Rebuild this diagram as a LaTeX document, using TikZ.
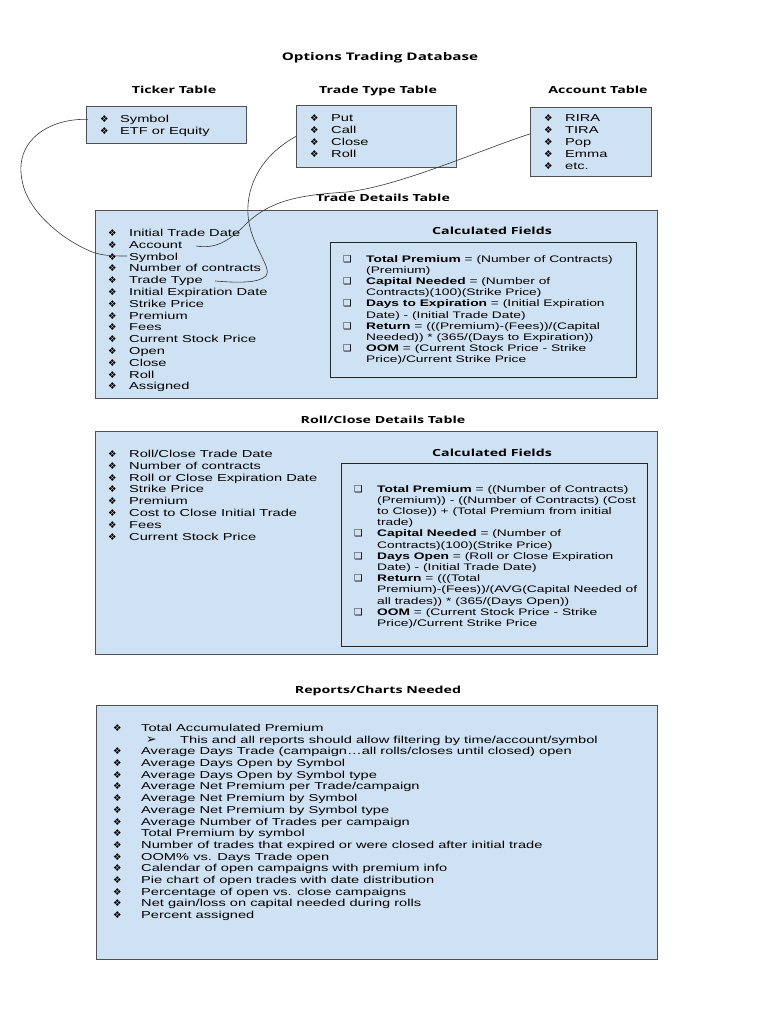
\documentclass[tikz,border=0pt]{standalone}
\usepackage{fontspec}
\setmainfont{Liberation Sans}[FakeStretch=1.45]
\newfontfamily\hdfont{Open Sans}[FakeStretch=1.45]
\newfontfamily\symfont{DejaVu Sans}
\usetikzlibrary{positioning,calc}
\definecolor{tblblue}{RGB}{207,226,243}
\definecolor{edgegray}{RGB}{80,80,80}
\definecolor{wiregray}{RGB}{55,55,55}
\newcommand{\bul}[1][21pt]{\makebox[#1][l]{\symfont\fontsize{9.5}{9.5}\selectfont ❖}}
\newcommand{\chk}[1][23pt]{\makebox[#1][l]{\symfont\fontsize{9.5}{9.5}\selectfont ❑}}
\newcommand{\arr}[1][34pt]{\makebox[#1][l]{\symfont\fontsize{12.5}{10}\selectfont ➢}}
\newcommand{\ind}[1]{\makebox[#1]{}}

\begin{document}
\begin{tikzpicture}[x=1pt, y=-1pt,
    tbl/.style={draw=edgegray, fill=tblblue, line width=0.8pt, anchor=north west, inner sep=0pt},
    calcbox/.style={tbl, draw=black!85, line width=1.1pt},
    hd/.style={anchor=base, font=\hdfont\bfseries\fontsize{9.8}{12}\selectfont},
    titlehd/.style={anchor=base, font=\hdfont\bfseries\fontsize{10.5}{12}\selectfont},
    list/.style={anchor=north west, align=left, inner sep=0pt, font=\fontsize{10.1}{11.8}\selectfont},
    calclist/.style={list, font=\fontsize{9.5}{11.2}\selectfont},
    wire/.style={draw=wiregray, line width=0.6pt}
  ]
  \fill[white] (0,0) rectangle (768,1024);
  \useasboundingbox (0,0) rectangle (768,1024);

  \node[titlehd] (title) at (380,61) {Options Trading Database};

  \node[hd] (tickerhd) at (174,94) {Ticker Table};
  \node[hd] (typehd) at (378,94) {Trade Type Table};
  \node[hd] (accthd) at (598,94) {Account Table};

  \node[tbl, minimum width=160pt, minimum height=37pt] (tk) at (86,106) {};
  \node[tbl, minimum width=160pt, minimum height=62pt] (tt) at (296,105) {};
  \node[tbl, minimum width=121pt, minimum height=69pt] (acct) at (530,107) {};

  \node[list] (tklist) at (100,115) {\bul[20pt]Symbol\\ \bul[20pt]ETF or Equity};
  \node[list, font=\fontsize{10.1}{12}\selectfont] (ttlist) at (310,114)
    {\bul Put\\ \bul Call\\ \bul Close\\ \bul Roll};
  \node[list, font=\fontsize{10.1}{12}\selectfont] (acctlist) at (544,114)
    {\bul RIRA\\ \bul TIRA\\ \bul Pop\\ \bul Emma\\ \bul etc.};

  \node[hd] (tdhd) at (383,202) {Trade Details Table};
  \node[tbl, minimum width=562pt, minimum height=188pt] (td) at (95,210) {};
  \node[list] (tdlist) at (108,229)
    {\bul Initial Trade Date\\ \bul Account\\ \bul Symbol\\ \bul Number of contracts\\
     \bul Trade Type\\ \bul Initial Expiration Date\\ \bul Strike Price\\ \bul Premium\\
     \bul Fees\\ \bul Current Stock Price\\ \bul Open\\ \bul Close\\ \bul Roll\\ \bul Assigned};
  \node[hd] (calchd) at (492,235) {Calculated Fields};
  \node[calcbox, minimum width=306pt, minimum height=135pt] (calc) at (330,242) {};
  \node[calclist] (calclist) at (343,255)
    {\chk\textbf{Total Premium} = (Number of Contracts)\\
     \ind{23pt}(Premium)\\
     \chk\textbf{Capital Needed} = (Number of\\
     \ind{23pt}Contracts)(100)(Strike Price)\\
     \chk\textbf{Days to Expiration} = (Initial Expiration\\
     \ind{23pt}Date) - (Initial Trade Date)\\
     \chk\textbf{Return} = (((Premium)-(Fees))/(Capital\\
     \ind{23pt}Needed)) * (365/(Days to Expiration))\\
     \chk\textbf{OOM} = (Current Stock Price - Strike\\
     \ind{23pt}Price)/Current Strike Price};

  \node[hd] (rchd) at (383,423) {Roll/Close Details Table};
  \node[tbl, minimum width=562pt, minimum height=223pt] (rc) at (95,431) {};
  \node[list] (rclist) at (108,450)
    {\bul Roll/Close Trade Date\\ \bul Number of contracts\\ \bul Roll or Close Expiration Date\\
     \bul Strike Price\\ \bul Premium\\ \bul Cost to Close Initial Trade\\ \bul Fees\\
     \bul Current Stock Price};
  \node[hd] (calchd2) at (492,456) {Calculated Fields};
  \node[calcbox, minimum width=306pt, minimum height=183pt] (calc2) at (341,463) {};
  \node[calclist] (calclist2) at (354,485)
    {\chk\textbf{Total Premium} = ((Number of Contracts)\\
     \ind{23pt}(Premium)) - ((Number of Contracts) (Cost\\
     \ind{23pt}to Close)) + (Total Premium from initial\\
     \ind{23pt}trade)\\
     \chk\textbf{Capital Needed} = (Number of\\
     \ind{23pt}Contracts)(100)(Strike Price)\\
     \chk\textbf{Days Open} = (Roll or Close Expiration\\
     \ind{23pt}Date) - (Initial Trade Date)\\
     \chk\textbf{Return} = (((Total\\
     \ind{23pt}Premium)-(Fees))/(AVG(Capital Needed of\\
     \ind{23pt}all trades)) * (365/(Days Open))\\
     \chk\textbf{OOM} = (Current Stock Price - Strike\\
     \ind{23pt}Price)/Current Strike Price};

  \node[hd] (rephd) at (378,693) {Reports/Charts Needed};
  \node[tbl, minimum width=561pt, minimum height=254pt] (rep) at (96,705) {};
  \node[list, font=\fontsize{10.1}{11.69}\selectfont] (replist) at (113,724)
    {\bul[28pt]Total Accumulated Premium\\
     \ind{33pt}\arr This and all reports should allow filtering by time/account/symbol\\
     \bul[28pt]Average Days Trade (campaign…all rolls/closes until closed) open\\
     \bul[28pt]Average Days Open by Symbol\\
     \bul[28pt]Average Days Open by Symbol type\\
     \bul[28pt]Average Net Premium per Trade/campaign\\
     \bul[28pt]Average Net Premium by Symbol\\
     \bul[28pt]Average Net Premium by Symbol type\\
     \bul[28pt]Average Number of Trades per campaign\\
     \bul[28pt]Total Premium by symbol\\
     \bul[28pt]Number of trades that expired or were closed after initial trade\\
     \bul[28pt]OOM\% vs. Days Trade open\\
     \bul[28pt]Calendar of open campaigns with premium info\\
     \bul[28pt]Pie chart of open trades with date distribution\\
     \bul[28pt]Percentage of open vs. close campaigns\\
     \bul[28pt]Net gain/loss on capital needed during rolls\\
     \bul[28pt]Percent assigned};

  \coordinate (tdSym) at (127,256);
  \coordinate (tdAcct) at (196,246);
  \coordinate (tdType) at (215,281);
  \draw[wire] ([xshift=2pt,yshift=5.5pt]tk.west) .. controls (50,118) and (14,140) .. (22,180)
    .. controls (27,212) and (65,242) .. (95,253) .. controls (106,256) and (116,256) .. (tdSym);
  \draw[wire] (tdType) .. controls (240,283) and (258,283) .. (266,276)
    .. controls (273,268) and (250,245) .. (248,215) .. controls (246,185) and (262,155) .. (tt.west);
  \draw[wire] (tdAcct) .. controls (215,249) and (228,242) .. (245,225)
    .. controls (270,200) and (300,195) .. (347,192) .. controls (400,186) and (480,150) .. ([yshift=8pt]acct.west);
\end{tikzpicture}
\end{document}
